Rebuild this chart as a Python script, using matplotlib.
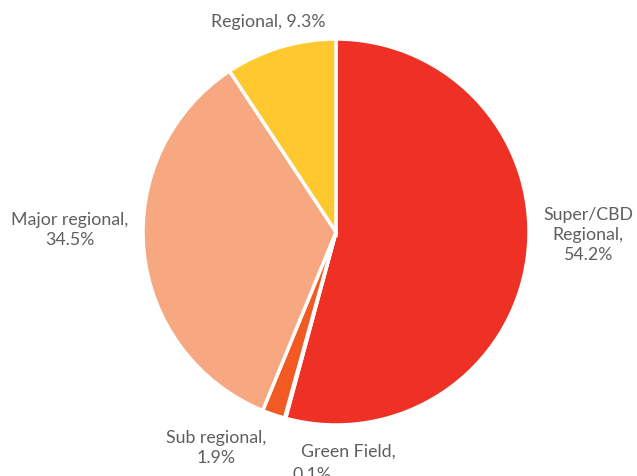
import matplotlib.pyplot as plt

labels = ['Super/CBD\nRegional', 'Green Field', 'Sub regional', 'Major regional', 'Regional']
shares = [54.2, 0.1, 1.9, 34.5, 9.3]
colors = ['#EE3124', '#F58220', '#F15A22', '#F7A880', '#FFC82E']

# label positions in pixels (x from left, y from top)
label_px = {
    'Super/CBD\nRegional': (588, 235),
    'Sub regional': (216, 448),
    'Major regional': (70, 230),
    'Regional': (268, 22),
}

W, H = 637, 477
cx, cy, R = 336, 233, 193
FONT = dict(fontsize=12.8, color='#5f5f5f', family='Lato')

fig = plt.figure(figsize=(W / 100, H / 100), dpi=100)
ax = fig.add_axes([0, 0, 1, 1])

ax.pie(shares, colors=colors, startangle=90, counterclock=False, radius=1,
       wedgeprops=dict(edgecolor='white', linewidth=2.5))
# pie resets limits, so set them afterwards
ax.set_xlim(-cx / R, (W - cx) / R)
ax.set_ylim(-(H - cy) / R, cy / R)
ax.set_aspect('auto')
ax.axis('off')


def px(x, y):
    return (x - cx) / R, (cy - y) / R


for lab, val in zip(labels, shares):
    if lab == 'Green Field':
        ax.text(*px(348, 452), 'Green Field,', ha='center', va='center', **FONT)
        ax.text(*px(312, 475), f'{val}%', ha='center', va='center', **FONT)
        continue
    x, y = label_px[lab]
    if lab == 'Regional':
        txt = f'{lab}, {val}%'
    else:
        txt = f'{lab},\n{val}%'
    ax.text(*px(x, y), txt, ha='center', va='center', linespacing=1.3, **FONT)

fig.savefig('out.png', dpi=100)
